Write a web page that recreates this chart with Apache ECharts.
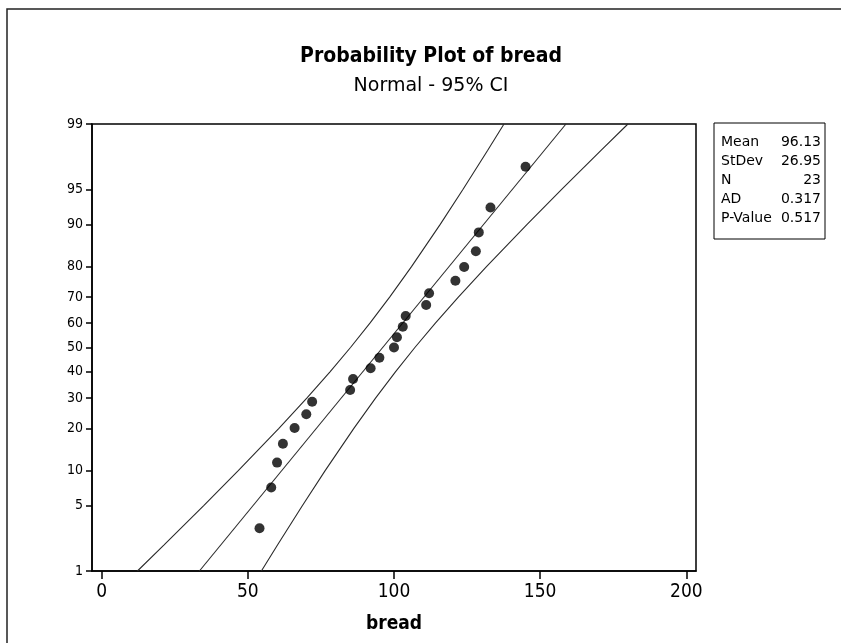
<!DOCTYPE html>
<html>
<head>
<meta charset="utf-8">
<script src="https://cdn.jsdelivr.net/npm/echarts@6/dist/echarts.min.js"></script>
<style>
html,body{margin:0;padding:0;background:#fff;}
#chart{width:841px;height:643px;}
</style>
</head>
<body>
<div id="chart"></div>
<script>
// ---- data ----
const breadValues = [54, 58, 60, 62, 66, 70, 72, 85, 86, 92, 95, 100, 101, 103, 104, 111, 112, 121, 124, 128, 129, 133, 145];
const breadPercents = [2.99, 7.26, 11.54, 15.81, 20.09, 24.36, 28.63, 32.91, 37.18, 41.45, 45.73, 50.00, 54.27, 58.55, 62.82, 67.09, 71.37, 75.64, 79.91, 84.19, 88.46, 92.74, 97.01];

// fitted line (two ends)
const fitPercents = [1, 99];
const fitValues = [33.44, 158.82];

// 95% CI band, read at these percent levels
const ciPercents = [1, 2, 5, 10, 20, 30, 40, 50, 60, 70, 80, 90, 95, 98, 99];
const ciLower = [12.24, 21.36, 34.91, 46.73, 60.63, 70.25, 78.11, 85.12, 91.77, 98.51, 105.99, 115.81, 123.57, 132.06, 137.62];
const ciUpper = [54.64, 60.20, 68.69, 76.45, 86.27, 93.75, 100.49, 107.14, 114.15, 122.01, 131.63, 145.53, 157.35, 170.90, 180.02];

// tick labels
const yTickPercents = [1, 5, 10, 20, 30, 40, 50, 60, 70, 80, 90, 95, 99];
const xTickValues = [0, 50, 100, 150, 200];

// statistics table
const statNames = ['Mean', 'StDev', 'N', 'AD', 'P-Value'];
const statValues = ['96.13', '26.95', '23', '0.317', '0.517'];

// ---- normal probability scale (inverse normal CDF) ----
function probit(p) {
  const a = [-3.969683028665376e+01, 2.209460984245205e+02, -2.759285104469687e+02, 1.383577518672690e+02, -3.066479806614716e+01, 2.506628277459239e+00];
  const b = [-5.447609879822406e+01, 1.615858368580409e+02, -1.556989798598866e+02, 6.680131188771972e+01, -1.328068155288572e+01];
  const c = [-7.784894002430293e-03, -3.223964580411365e-01, -2.400758277161838e+00, -2.549732539343734e+00, 4.374664141464968e+00, 2.938163982698783e+00];
  const d = [7.784695709041462e-03, 3.224671290700398e-01, 2.445134137142996e+00, 3.754408661907416e+00];
  const pl = 0.02425, ph = 1 - pl;
  let q, r;
  if (p < pl) {
    q = Math.sqrt(-2 * Math.log(p));
    return (((((c[0]*q+c[1])*q+c[2])*q+c[3])*q+c[4])*q+c[5]) / ((((d[0]*q+d[1])*q+d[2])*q+d[3])*q+1);
  }
  if (p > ph) {
    q = Math.sqrt(-2 * Math.log(1 - p));
    return -(((((c[0]*q+c[1])*q+c[2])*q+c[3])*q+c[4])*q+c[5]) / ((((d[0]*q+d[1])*q+d[2])*q+d[3])*q+1);
  }
  q = p - 0.5; r = q * q;
  return (((((a[0]*r+a[1])*r+a[2])*r+a[3])*r+a[4])*r+a[5])*q / (((((b[0]*r+b[1])*r+b[2])*r+b[3])*r+b[4])*r+1);
}
const pz = pct => probit(pct / 100);

const yTickZ = yTickPercents.map(pz);
const pointsData = breadValues.map((v, i) => [v, pz(breadPercents[i])]);
const fitData = fitValues.map((v, i) => [v, pz(fitPercents[i])]);
const lowData = ciLower.map((v, i) => [v, pz(ciPercents[i])]);
const upData = ciUpper.map((v, i) => [v, pz(ciPercents[i])]);

const FONT = '"DejaVu Sans", sans-serif';
const CFONT = '"DejaVu Sans Condensed", "DejaVu Sans", sans-serif';
const LINE = '#2a2a2a';

const chart = echarts.init(document.getElementById('chart'), null, {renderer: 'canvas'});

const lineSeries = (data) => ({
  type: 'line', data: data, showSymbol: false, symbol: 'none', silent: true,
  lineStyle: {color: LINE, width: 1.1}, z: 2, animation: false
});

const graphics = [
  {type: 'rect', shape: {x: 7, y: 9, width: 900, height: 700}, style: {fill: 'none', stroke: '#222', lineWidth: 1.5}, z: 0},
  {type: 'text', x: 431, y: 57, style: {text: 'Probability Plot of bread', font: 'bold 21px ' + CFONT, fill: '#000', align: 'center', verticalAlign: 'middle'}},
  {type: 'text', x: 431, y: 86, style: {text: 'Normal - 95% CI', font: '19px ' + FONT, fill: '#000', align: 'center', verticalAlign: 'middle'}},
  {type: 'rect', shape: {x: 714, y: 123, width: 111, height: 116}, style: {fill: '#fff', stroke: '#000', lineWidth: 1}}
];
const rowY = [142, 161, 180, 199, 218];
statNames.forEach((n, i) => {
  graphics.push({type: 'text', x: 721, y: rowY[i], style: {text: n, font: '14px ' + FONT, fill: '#000', align: 'left', verticalAlign: 'middle'}});
  graphics.push({type: 'text', x: 821, y: rowY[i], style: {text: statValues[i], font: '14px ' + FONT, fill: '#000', align: 'right', verticalAlign: 'middle'}});
});

chart.setOption({
  animation: false,
  backgroundColor: '#fff',
  grid: {left: 92, top: 124, width: 604, height: 447, show: true, borderColor: '#000', borderWidth: 1.5, backgroundColor: 'transparent'},
  xAxis: {
    type: 'value', min: -3.3, max: 203.3,
    name: 'bread', nameLocation: 'middle', nameGap: 44,
    nameTextStyle: {fontFamily: CFONT, fontWeight: 'bold', fontSize: 19, color: '#000'},
    axisLine: {show: true, onZero: false, lineStyle: {color: '#000', width: 1.5}},
    axisTick: {show: true, length: 8, lineStyle: {color: '#000', width: 1.5}, customValues: xTickValues},
    axisLabel: {customValues: xTickValues, fontFamily: CFONT, fontSize: 19, color: '#000', margin: 12},
    splitLine: {show: false}
  },
  yAxis: {
    type: 'value', min: pz(1), max: pz(99),
    axisLine: {show: true, onZero: false, lineStyle: {color: '#000', width: 1.5}},
    axisTick: {show: true, length: 6, lineStyle: {color: '#000', width: 1.5}, customValues: yTickZ},
    axisLabel: {
      customValues: yTickZ, fontFamily: CFONT, fontSize: 14, color: '#000', margin: 9,
      formatter: function (v) {
        for (let i = 0; i < yTickZ.length; i++) if (Math.abs(yTickZ[i] - v) < 1e-6) return String(yTickPercents[i]);
        return '';
      }
    },
    splitLine: {show: false}
  },
  series: [
    lineSeries(lowData),
    lineSeries(fitData),
    lineSeries(upData),
    {type: 'scatter', data: pointsData, symbol: 'circle', symbolSize: 10, itemStyle: {color: '#000'}, z: 3, silent: true}
  ],
  graphic: graphics
});
</script>
</body>
</html>
